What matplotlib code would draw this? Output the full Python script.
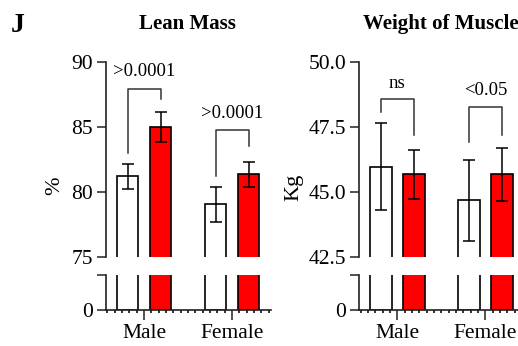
import numpy as np
import matplotlib.pyplot as plt
from matplotlib.ticker import MultipleLocator

plt.rcParams['font.family'] = ['Liberation Serif', 'DejaVu Serif']

groups = ['Male', 'Female']

# Lean Mass (%)
lean_ctrl = [81.2, 79.05]
lean_ctrl_err = [0.95, 1.35]
lean_trt = [85.0, 81.35]
lean_trt_err = [1.13, 0.98]
lean_p = ['>0.0001', '>0.0001']

# Weight of Muscle (Kg)
musc_ctrl = [45.97, 44.68]
musc_ctrl_err = [1.68, 1.57]
musc_trt = [45.69, 45.69]
musc_trt_err = [0.94, 1.02]
musc_p = ['ns', '<0.05']

fig = plt.figure(figsize=(5.18, 3.46), dpi=100)

W, H = 518, 346
def ax_at(x0, x1, y0, y1):
    return fig.add_axes([x0 / W, 1 - y1 / H, (x1 - x0) / W, (y1 - y0) / H])

x = np.arange(len(groups))
off = 0.1875
bw = 0.245
axcol = '#222222'


def panel(xl, ctrl, cerr, trt, terr, ylim, yticks, fmt, pvals, brackets, txty):
    top = ax_at(xl, xl + 165, 62, 257)
    bot = ax_at(xl, xl + 165, 275, 310)
    for a in (top, bot):
        a.bar(x - off, ctrl, bw, color='white', edgecolor='black', linewidth=1.2)
        a.bar(x + off, trt, bw, color='#ff0000', edgecolor='black', linewidth=1.2)
        a.set_xlim(-0.432, 1.443)
        a.spines['top'].set_visible(False)
        a.spines['right'].set_visible(False)
        a.spines['left'].set_color(axcol)
        a.spines['left'].set_linewidth(1.2)
        a.tick_params(axis='y', length=6.5, width=1.1, color=axcol, labelsize=15.5, pad=3)
    top.errorbar(x - off, ctrl, yerr=cerr, fmt='none', ecolor='black', elinewidth=1.1,
                 capsize=4, capthick=1.1)
    top.errorbar(x + off, trt, yerr=terr, fmt='none', ecolor='black', elinewidth=1.1,
                 capsize=4, capthick=1.1)
    top.set_ylim(*ylim)
    top.set_yticks(yticks)
    top.set_yticklabels([fmt.format(v) for v in yticks])
    top.spines['bottom'].set_visible(False)
    top.set_xticks([])

    bot.set_ylim(0, 10)
    bot.set_yticks([0, 10])
    bot.set_yticklabels(['0', ''])
    bot.spines['bottom'].set_color(axcol)
    bot.spines['bottom'].set_linewidth(1.2)
    bot.set_xticks(x)
    bot.set_xticklabels(groups)
    bot.xaxis.set_minor_locator(MultipleLocator(1 / 12))
    bot.tick_params(axis='x', which='major', length=7, width=1.1, color=axcol,
                    labelsize=15.5, pad=3)
    bot.tick_params(axis='x', which='minor', length=1.8, width=1.3, color=axcol)

    for i, (h, l, r) in enumerate(brackets):
        top.plot([i - off, i - off, i + off, i + off], [l, h, h, r],
                 color='#333333', linewidth=1.1)
        top.text(i, txty[i], pvals[i], ha='center', va='center', fontsize=13.5)
    return top, bot


panel(106, lean_ctrl, lean_ctrl_err, lean_trt, lean_trt_err, (75, 90),
      [75, 80, 85, 90], '{:.0f}', lean_p,
      [(87.9, 83.0, 87.15), (84.77, 81.2, 83.56)], [89.25, 86.05])
panel(359.3, musc_ctrl, musc_ctrl_err, musc_trt, musc_trt_err, (42.5, 50),
      [42.5, 45.0, 47.5, 50.0], '{:.1f}', musc_p,
      [(48.59, 48.08, 47.19), (48.26, 46.94, 47.19)], [49.18, 48.92])

fig.text(54.5 / W, 1 - 186 / H, '%', rotation=90, ha='center', va='center', fontsize=16)
fig.text(294 / W, 1 - 187 / H, 'Kg', rotation=90, ha='center', va='center', fontsize=16)
fig.text(187.5 / W, 1 - 24 / H, 'Lean Mass', ha='center', va='center',
         fontsize=15, fontweight='bold')
fig.text(441 / W, 1 - 24 / H, 'Weight of Muscle', ha='center', va='center',
         fontsize=15, fontweight='bold')
fig.text(18 / W, 1 - 25 / H, 'J', ha='center', va='center', fontsize=20, fontweight='bold')

fig.savefig('out.png', dpi=100)
